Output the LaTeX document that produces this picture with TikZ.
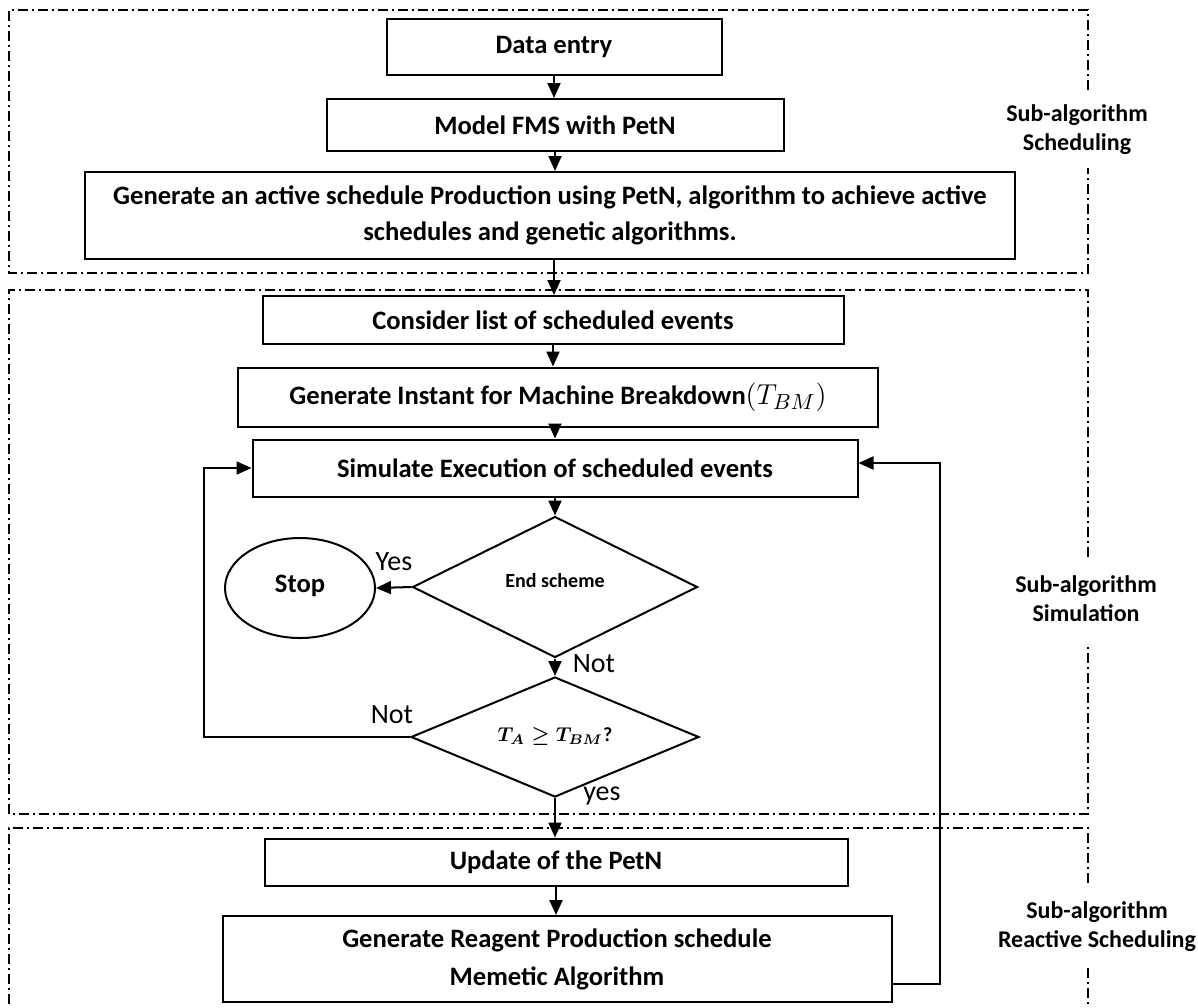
\documentclass[tikz,border=0pt]{standalone}
\usepackage{fontspec}
\setmainfont{Carlito}
\usetikzlibrary{arrows.meta,shapes.geometric}
\begin{document}
\begin{tikzpicture}[x=0.5pt,y=-0.5pt,
  box/.style={draw,line width=1pt,inner sep=0pt,font=\bfseries\fontsize{13.3}{18}\selectfont,align=center},
  arr/.style={line width=1pt,-{Triangle[length=7.5pt,width=6.5pt]}},
  frame/.style={line width=0.7pt,dash pattern=on 5pt off 2pt on 1pt off 2pt},
  side/.style={font=\bfseries\fontsize{12}{14.5}\selectfont,align=center},
  lab/.style={font=\fontsize{14}{16}\selectfont},
  dia/.style={draw,diamond,aspect=2.4,line width=1pt,inner sep=0pt}]
\useasboundingbox (0,0) rectangle (1198,1007);
% frames
\draw[frame] (1088,90) -- (1088,10) -- (9,10) -- (9,273) -- (1088,273) -- (1088,168);
\draw[frame] (1088,557) -- (1088,290) -- (9,290) -- (9,814) -- (1088,814) -- (1088,643);
\draw[frame] (1088,883) -- (1088,828) -- (9,828) -- (9,1010);
\draw[frame] (1088,968) -- (1088,1010);
\node[side] (s1) at (1077,130) {Sub-algorithm\\Scheduling};
\node[side] (s2) at (1086,599) {Sub-algorithm\\Simulation};
\node[side] (s3) at (1097,927) {Sub-algorithm\\Reactive Scheduling};
% boxes
\node[box,minimum width=167.5pt,minimum height=28pt] (data) at (554,47) {Data entry};
\node[box,minimum width=228.5pt,minimum height=26pt] (model) at (555,125) {Model FMS with PetN};
\node[box,minimum width=465pt,minimum height=43.5pt] (gen) at (550,215.5) {Generate an active schedule Production using PetN, algorithm to achieve active\\schedules and genetic algorithms.};
\node[box,minimum width=290.5pt,minimum height=24pt] (cons) at (553,320) {Consider list of scheduled events};
\node[box,minimum width=320pt,minimum height=29.5pt] (inst) at (558,397) {Generate Instant for Machine Breakdown{\mdseries\fontsize{15}{17}\selectfont$(T_{BM})$}};
\node[box,minimum width=302.5pt,minimum height=28.5pt] (sim) at (555,468) {Simulate Execution of scheduled events};
\node[dia,minimum width=142.5pt,minimum height=70.5pt,font=\bfseries\fontsize{10}{12}\selectfont] (d1) at (555,587) {\raisebox{7pt}{End scheme}};
\node[draw,ellipse,line width=1pt,inner sep=0pt,minimum width=75pt,minimum height=50pt,font=\bfseries\fontsize{13.3}{15}\selectfont] (stop) at (300,588) {\raisebox{4pt}{Stop}};
\node[dia,minimum width=144pt,minimum height=60pt,font=\fontsize{10}{12}\selectfont] (d2) at (555,737) {\raisebox{2pt}{\boldmath$T_A\geq T_{BM}$\textbf{?}}};
\node[box,minimum width=291.5pt,minimum height=23.5pt] (upd) at (556,862) {Update of the PetN};
\node[box,minimum width=334.5pt,minimum height=43pt,font=\bfseries\fontsize{13.3}{19}\selectfont] (reag) at (557,959) {Generate Reagent Production schedule\\Memetic Algorithm};
% labels
\node[lab] (lyes) at (394,562) {Yes};
\node[lab] (lnot1) at (594,664) {Not};
\node[lab] (lnot2) at (392,715) {Not};
\node[lab] (lyes2) at (602,796) {yes};
% arrows
\draw[arr] (data.south) -- (data.south |- model.north);
\draw[arr] (model.south) -- (model.south |- gen.north);
\draw[arr] ([xshift=2pt]gen.south) -- ([xshift=2pt]gen.south |- cons.north);
\draw[arr] (cons.south) -- (cons.south |- inst.north);
\draw[arr] ([xshift=-1.5pt]inst.south) -- ([xshift=-1.5pt]inst.south |- sim.north);
\draw[arr] (sim.south) -- (d1.north);
\draw[arr] (d1.west) -- (stop.east);
\draw[arr] (d1.south) -- (d2.north);
\coordinate (l1) at (204,737);
\coordinate (l2) at (204,468);
\draw[arr] (d2.west) -- (l1) -- (l2) -- (sim.west);
\draw[arr] (d2.south) -- (d2.south |- upd.north);
\draw[arr] (upd.south) -- (upd.south |- reag.north);
\coordinate (r1) at (940,984);
\coordinate (r2) at (940,463);
\draw[arr] (reag.east |- r1) -- (r1) -- (r2) -- (sim.east |- r2);
\end{tikzpicture}
\end{document}
